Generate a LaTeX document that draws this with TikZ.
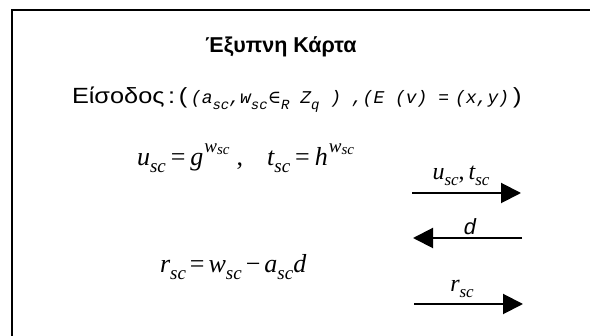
\documentclass[tikz,border=0pt]{standalone}
\usepackage{fontspec}
\setmainfont{Liberation Sans}
\newfontfamily\arialw{Liberation Sans}[FakeStretch=1.15]
\newfontfamily\tms{Liberation Serif}
\newfontfamily\cour{Liberation Mono}
\newfontfamily\dvs{DejaVu Serif}
\usetikzlibrary{arrows.meta}
\newcommand{\tsub}[2][19]{\raisebox{-0.25em}{\fontsize{#1}{#1}\selectfont\itshape #2}}
\newcommand{\csub}[1]{\raisebox{-0.3em}{\fontsize{14}{14}\selectfont\cour\itshape #1}}
\newcommand{\tsup}[1]{\raisebox{0.5em}{\fontsize{19}{19}\selectfont\itshape #1}}
\newcommand{\tsupsub}[1]{\raisebox{-0.1em}{\fontsize{15}{15}\selectfont\itshape #1}}
\newcommand{\hs}[1]{\hspace{#1pt}}
\begin{document}
\begin{tikzpicture}[x=1pt,y=-1pt,
  txt/.style={inner sep=0pt,outer sep=0pt,anchor=base west},
  eqn/.style={inner sep=0pt,outer sep=0pt,anchor=base west,font=\fontsize{26}{26}\selectfont\tms\itshape},
  lbl/.style={inner sep=0pt,outer sep=0pt,anchor=base,font=\fontsize{24}{24}\selectfont\tms\itshape},
  msg/.style={line width=2pt,-{Triangle[length=20pt,width=20pt]}}]
\useasboundingbox (0,0) rectangle (590,336);
\fill[white] (0,0) rectangle (590,336);
\draw[line width=2pt] (590,10.3) -- (12.3,10.3) -- (12.3,336);
\node[inner sep=0pt,anchor=base,font=\fontsize{21.5}{21.5}\selectfont\bfseries] (title) at (281,53) {Έξυπνη Κάρτα};
\node[txt,font=\fontsize{22}{22}\selectfont\arialw] (input) at (72,104) {Είσοδος\,:\,(\,{\cour\itshape\fontsize{18}{18}\selectfont (a\csub{sc},w\csub{sc}{\dvs\upshape∈}\csub{R}\ Z\csub{q}\ )\ ,(E\ (v)\ =\hs{6}(x,y)}\hs{4})};
\node[eqn] (eq1) at (137,166) {u\tsub{sc}\hs{5}{\upshape=}\hs{5}g\hs{1}\tsup{w\tsupsub{sc}}\hs{7}{\upshape,}\hs{24}t\tsub{sc}\hs{5}{\upshape=}\hs{5}h\hs{1}\tsup{w\tsupsub{sc}}};
\node[eqn] (eq2) at (160,273) {r\tsub{sc}\hs{4}{\upshape=}\hs{4}w\tsub{sc}\hs{4}{\upshape−}\hs{4}a\tsub{sc}d};
\coordinate (a1s) at (412,193); \coordinate (a1e) at (521,193);
\coordinate (a2s) at (522,238); \coordinate (a2e) at (413,238);
\coordinate (a3s) at (414,304); \coordinate (a3e) at (523,304);
\draw[msg] (a1s) -- (a1e);
\draw[msg] (a2s) -- (a2e);
\draw[msg] (a3s) -- (a3e);
\node[lbl] (l1) at (461,180) {u\tsub[17]{sc}{\upshape,}\,t\tsub[17]{sc}};
\node[inner sep=0pt,anchor=base,font=\fontsize{22}{22}\selectfont\cour\itshape] (l2) at (470,235) {d};
\node[lbl] (l3) at (462,292) {r\tsub[17]{sc}};
\end{tikzpicture}
\end{document}
